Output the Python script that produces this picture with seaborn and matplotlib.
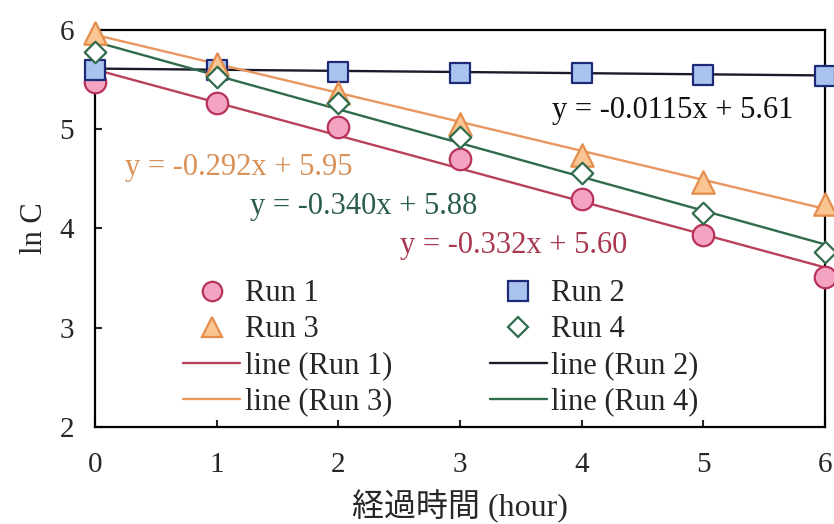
import numpy as np
import pandas as pd
import matplotlib
matplotlib.use("Agg")
import matplotlib.pyplot as plt
from matplotlib.lines import Line2D
import seaborn as sns

# measured values (hour vs ln C)
hours = [0, 1, 2, 3, 4, 5, 6]
run1 = [5.48, 5.26, 5.02, 4.70, 4.30, 3.93, 3.51]
run2 = [5.60, 5.60, 5.58, 5.57, 5.57, 5.55, 5.54]
run3 = [5.97, 5.66, 5.36, 5.05, 4.74, 4.47, 4.25]
run4 = [5.78, 5.53, 5.26, 4.92, 4.56, 4.16, 3.76]

# fitted lines (slope, intercept)
slopes = [-0.332, -0.0115, -0.292, -0.340]
intercepts = [5.60, 5.61, 5.95, 5.88]
eq_labels = ["y = -0.332x + 5.60", "y = -0.0115x + 5.61",
             "y = -0.292x + 5.95", "y = -0.340x + 5.88"]
run_names = ["Run 1", "Run 2", "Run 3", "Run 4"]

sns.set_style("ticks")
plt.rcParams['font.family'] = ['Liberation Serif', 'Noto Sans CJK JP']

fig = plt.figure(figsize=(8.34, 5.24), dpi=100)
ax = fig.add_axes([0.114, 0.185, 0.875, 0.758])

styles = [
    dict(marker='o', face='#f4a3c3', edge='#b8325a', line='#b8405a', text='#a8384f', ms=240),
    dict(marker='s', face='#a9c3ee', edge='#1e2a78', line='#1a1a2a', text='#111111', ms=200),
    dict(marker='^', face='#fbc592', edge='#e48d4c', line='#e8975e', text='#d99158', ms=260),
    dict(marker='D', face='white', edge='#2f6b4c', line='#2f6b4c', text='#2b5e48', ms=120),
]
series = [run1, run2, run3, run4]

xfit = np.array([0.0, 6.0])
for i in range(4):
    st = styles[i]
    sns.lineplot(x=xfit, y=slopes[i] * xfit + intercepts[i], ax=ax,
                 color=st['line'], lw=1.7, zorder=2)
for i in range(4):
    st = styles[i]
    df = pd.DataFrame({"hour": hours, "lnC": series[i]})
    sns.scatterplot(data=df, x="hour", y="lnC", ax=ax, marker=st['marker'],
                    s=st['ms'], color=st['face'], edgecolor=st['edge'],
                    linewidth=1.6, zorder=3, clip_on=False)

# equation labels
eq_pos = [(2.51, 3.83), (3.76, 5.19), (0.25, 4.61), (1.27, 4.22)]
for i in range(4):
    ax.text(eq_pos[i][0], eq_pos[i][1], eq_labels[i], color=styles[i]['text'],
            fontsize=22, va='center', ha='left')

ax.set_xlim(0, 6)
ax.set_ylim(2, 6)
ax.set_xticks(hours)
ax.set_yticks([2, 3, 4, 5, 6])
ax.tick_params(direction='in', length=5, width=1.5, labelsize=21,
               top=False, right=False)
ax.tick_params(axis='x', pad=18)
ax.tick_params(axis='y', pad=15)
for sp in ax.spines.values():
    sp.set_linewidth(1.6)
    sp.set_color('black')
ax.set_xlabel("経過時間 (hour)", fontsize=23, labelpad=8)
ax.set_ylabel("ln C", fontsize=22, labelpad=8)

# legend
pt_handles = []
ln_handles = []
for i in range(4):
    st = styles[i]
    pt_handles.append(Line2D([], [], ls='none', marker=st['marker'],
                             markerfacecolor=st['face'], markeredgecolor=st['edge'],
                             markersize=14 if st['marker'] != 'D' else 10, markeredgewidth=1.6))
    ln_handles.append(Line2D([], [], color=st['line'], lw=1.7))
handles = [pt_handles[0], pt_handles[2], ln_handles[0], ln_handles[2],
           pt_handles[1], pt_handles[3], ln_handles[1], ln_handles[3]]
labels = ["Run 1", "Run 3", "line (Run 1)", "line (Run 3)",
          "Run 2", "Run 4", "line (Run 2)", "line (Run 4)"]
ax.legend(handles, labels, ncol=2, frameon=False, fontsize=22,
          loc='lower left', bbox_to_anchor=(0.104, -0.004),
          handlelength=1.86, handletextpad=0.15, labelspacing=0.23,
          columnspacing=3.2, borderaxespad=0)

fig.savefig("out.png", dpi=100)
